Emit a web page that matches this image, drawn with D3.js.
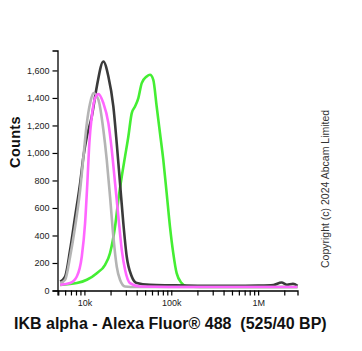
<!DOCTYPE html>
<html>
<head>
<meta charset="utf-8">
<script src="https://cdn.jsdelivr.net/npm/d3@7"></script>
<style>
  html, body { margin: 0; padding: 0; background: #fff; }
  svg { display: block; font-family: "Liberation Sans", Arial, sans-serif; }
</style>
</head>
<body>
<svg id="chart" width="362" height="351"></svg>
<script>
// histogram traces: [intensity, count]
const darkTrace = [
  [5260, 65], [6000, 102], [6850, 296], [7820, 538], [8930, 781], [9750, 975],
  [10670, 1120], [12160, 1265], [13900, 1484], [16520, 1665], [18880, 1556],
  [21530, 1338], [23550, 1072], [25700, 781], [28050, 490], [30690, 247],
  [35080, 102], [40000, 54], [56900, 41], [100000, 38], [200000, 35],
  [500000, 34], [1000000, 36], [1500000, 40], [1860000, 58], [2150000, 42],
  [2520000, 49], [2840000, 34]
];
const grayTrace = [
  [5260, 54], [6000, 78], [6850, 247], [7820, 465], [8930, 732], [9750, 975],
  [10670, 1217], [11640, 1363], [12680, 1436], [14490, 1387], [16520, 1169],
  [18070, 951], [19720, 684], [21530, 393], [23550, 175], [25700, 78],
  [29380, 29], [40000, 25], [200000, 25], [1000000, 25], [2840000, 25]
];
const magentaTrace = [
  [5260, 41], [6850, 54], [8180, 102], [9330, 247], [10180, 490], [10810, 781],
  [11400, 1072], [12160, 1265], [13270, 1399], [14490, 1428], [16520, 1363],
  [18880, 1217], [20650, 1023], [22540, 781], [24600, 538], [26920, 296],
  [29380, 151], [33500, 54], [43650, 29], [200000, 25], [1000000, 25], [2840000, 25]
];
const greenTrace = [
  [5260, 41], [8180, 54], [10670, 78], [13900, 126], [17300, 187], [19720, 272],
  [22540, 465], [24600, 660], [26920, 829], [29380, 975], [32060, 1120],
  [35080, 1290], [38280, 1338], [41780, 1399], [45710, 1508], [52120, 1556],
  [56890, 1569], [62090, 1532], [67920, 1338], [74130, 1145], [80910, 951],
  [88510, 708], [96610, 465], [105400, 272], [115300, 126], [131500, 54],
  [150300, 29], [300000, 25], [1000000, 25], [2840000, 25]
];

const yTicks = [0, 200, 400, 600, 800, 1000, 1200, 1400, 1600];
const xMajor = [10000, 100000, 1000000];
const xMajorLabels = ['10k', '100k', '1M'];
const xDomain = [4900, 2840000];
const yMax = 1745;

const series = [
  { data: greenTrace,   color: '#44ee33' },
  { data: darkTrace,    color: '#3a3a3a' },
  { data: grayTrace,    color: '#b4b4b4' },
  { data: magentaTrace, color: '#ff66ff' },
];

const svg = d3.select('#chart');
const L = 57.5, R = 297.5, T = 50.5, B = 290.5;

const x = d3.scaleLog().domain(xDomain).range([L, R]);
const y = d3.scaleLinear().domain([0, yMax]).range([B, T]);

// minor ticks 1..9 of each decade within range
const xMinor = [];
[1000, 10000, 100000, 1000000].forEach(dec => {
  for (let m = 1; m <= 9; m++) {
    const v = dec * m;
    if (v >= xDomain[0] && v <= xDomain[1]) xMinor.push(v);
  }
});

const line = d3.line()
  .x(d => x(d[0]))
  .y(d => y(d[1]))
  .curve(d3.curveMonotoneX);

const g = svg.append('g');
series.forEach(s => {
  g.append('path')
    .attr('d', line(s.data))
    .attr('fill', 'none')
    .attr('stroke', s.color)
    .attr('stroke-width', 2.6)
    .attr('stroke-linejoin', 'round');
});

// y axis
const yAxis = svg.append('g')
  .attr('transform', `translate(${L},0)`)
  .call(d3.axisLeft(y).tickValues(yTicks).tickFormat(d3.format(',')).tickSize(5).tickSizeOuter(5));
yAxis.select('.domain').attr('stroke', '#000').attr('stroke-width', 1.3);
yAxis.selectAll('.tick line').attr('stroke', '#000').attr('stroke-width', 1.2);
yAxis.selectAll('.tick text')
  .attr('font-size', 9).attr('fill', '#222')
  .attr('font-family', '"Liberation Sans", Arial, sans-serif')
  .attr('x', -8);

// x axis
const xAxis = svg.append('g')
  .attr('transform', `translate(0,${B})`)
  .call(d3.axisBottom(x).tickValues(xMinor).tickFormat(d => {
    const i = xMajor.indexOf(d);
    return i >= 0 ? xMajorLabels[i] : '';
  }).tickSize(5).tickSizeOuter(5));
xAxis.select('.domain').attr('stroke', '#000').attr('stroke-width', 1.3);
xAxis.selectAll('.tick line').attr('stroke', '#000').attr('stroke-width', 1.2);
xAxis.selectAll('.tick text')
  .attr('font-size', 9).attr('fill', '#222')
  .attr('font-family', '"Liberation Sans", Arial, sans-serif')
  .attr('y', 9);

// labels
svg.append('text')
  .attr('transform', 'translate(20,142) rotate(-90)')
  .attr('text-anchor', 'middle')
  .attr('font-size', 14.5).attr('font-weight', 'bold').attr('fill', '#111')
  .attr('letter-spacing', '0.3')
  .text('Counts');

svg.append('text')
  .attr('x', 14).attr('y', 329)
  .attr('font-size', 16).attr('font-weight', 'bold').attr('fill', '#111')
  .attr('xml:space', 'preserve')
  .text('IKB alpha - Alexa Fluor\u00ae 488  (525/40 BP)');

svg.append('text')
  .attr('transform', 'translate(329,268) rotate(-90)')
  .attr('font-size', 10.5).attr('fill', '#333')
  .text('Copyright (c) 2024 Abcam Limited');
</script>
</body>
</html>
